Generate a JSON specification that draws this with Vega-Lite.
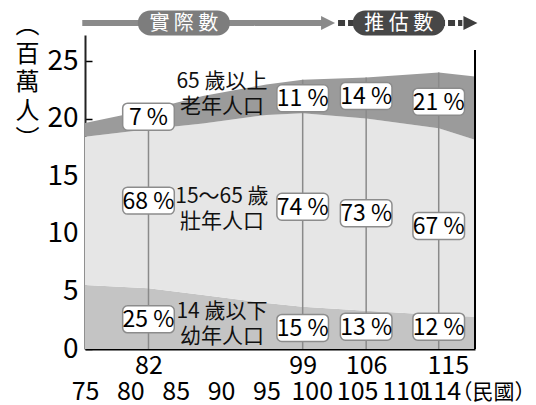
{
  "$schema": "https://vega.github.io/schema/vega-lite/v6.json",
  "width": 390,
  "height": 314,
  "autosize": {"type": "none"},
  "padding": {"left": 85, "top": 35, "right": 61, "bottom": 56},
  "background": "white",
  "config": {
    "view": {"stroke": null},
    "axis": {"grid": false, "zindex": 1, "labelColor": "#000", "labelFont": "Noto Sans CJK TC", "labelFontSize": 25, "labelFlush": false, "labelOverlap": false}
  },
  "datasets": {
    "series": [
      {"year": 75, "group": "14歲以下", "value": 5.57}, {"year": 75, "group": "15～64歲", "value": 12.89}, {"year": 75, "group": "65歲以上", "value": 1.19},
      {"year": 82, "group": "14歲以下", "value": 5.28}, {"year": 82, "group": "15～64歲", "value": 13.82}, {"year": 82, "group": "65歲以上", "value": 1.70},
      {"year": 88, "group": "14歲以下", "value": 4.70}, {"year": 88, "group": "15～64歲", "value": 14.90}, {"year": 88, "group": "65歲以上", "value": 2.40},
      {"year": 95, "group": "14歲以下", "value": 4.00}, {"year": 95, "group": "15～64歲", "value": 16.35}, {"year": 95, "group": "65歲以上", "value": 2.65},
      {"year": 99, "group": "14歲以下", "value": 3.68}, {"year": 99, "group": "15～64歲", "value": 16.82}, {"year": 99, "group": "65歲以上", "value": 2.90},
      {"year": 106, "group": "14歲以下", "value": 3.33}, {"year": 106, "group": "15～64歲", "value": 16.72}, {"year": 106, "group": "65歲以上", "value": 3.55},
      {"year": 114, "group": "14歲以下", "value": 2.96}, {"year": 114, "group": "15～64歲", "value": 16.24}, {"year": 114, "group": "65歲以上", "value": 4.85},
      {"year": 118, "group": "14歲以下", "value": 2.80}, {"year": 118, "group": "15～64歲", "value": 15.40}, {"year": 118, "group": "65歲以上", "value": 5.50}
    ],
    "guides": [
      {"year": 82, "total": 20.8}, {"year": 99, "total": 23.4}, {"year": 106, "total": 23.6}, {"year": 114, "total": 24.05}
    ],
    "boxes": [
      {"year": 82, "y": 20.2, "label": "7 %"}, {"year": 82, "y": 12.9, "label": "68 %"}, {"year": 82, "y": 2.58, "label": "25 %"},
      {"year": 99, "y": 21.8, "label": "11 %"}, {"year": 99, "y": 12.37, "label": "74 %"}, {"year": 99, "y": 1.83, "label": "15 %"},
      {"year": 106, "y": 22.0, "label": "14 %"}, {"year": 106, "y": 11.8, "label": "73 %"}, {"year": 106, "y": 1.94, "label": "13 %"},
      {"year": 114, "y": 21.5, "label": "21 %"}, {"year": 114, "y": 10.7, "label": "67 %"}, {"year": 114, "y": 1.94, "label": "12 %"}
    ],
    "groups": [
      {"year": 90.1, "y": 23.22, "text": "65 歲以上\n老年人口"},
      {"year": 90.1, "y": 13.22, "text": "15～65 歲\n壯年人口"},
      {"year": 90.1, "y": 3.22, "text": "14 歲以下\n幼年人口"}
    ],
    "phases": [
      {"phase": "實際數", "label": "實 際 數", "start": 74.7, "end": 101.3, "pillStart": 82.2, "pillEnd": 89.6, "mid": 85.9, "head": 101.8},
      {"phase": "推估數", "label": "推 估 數", "start": 102.9, "end": 116.6, "pillStart": 105.9, "pillEnd": 113.3, "mid": 109.6, "head": 117.5}
    ]
  },
  "resolve": {"scale": {"color": "independent", "strokeDash": "independent"}, "axis": {"x": "independent"}},
  "layer": [
    {
      "data": {"name": "series"},
      "mark": {"type": "area", "interpolate": "linear"},
      "encoding": {
        "x": {"field": "year", "type": "quantitative", "scale": {"domain": [75, 118], "nice": false, "zero": false},
          "axis": {"orient": "bottom", "values": [75, 80, 85, 90, 95, 100, 105, 110, 114], "ticks": false, "labelPadding": 30, "domainColor": "#000", "domainWidth": 2,
            "labelOffset": {"condition": {"test": "datum.value == 114", "value": 1}, "value": 0},
            "title": "（民國）", "titleFont": "Noto Sans CJK TC", "titleFontSize": 21, "titleFontWeight": "normal", "titleColor": "#000", "titleX": 366, "titleY": 43, "titleAlign": "left", "titleBaseline": "middle", "titleAngle": 0}},
        "y": {"field": "value", "type": "quantitative", "stack": "zero", "scale": {"domain": [0, 27.3], "nice": false},
          "axis": {"values": [0, 5, 10, 15, 20, 25], "tickSize": -7, "tickColor": "#000", "tickWidth": 1.5, "labelPadding": 14, "labelFontSize": 28, "domainColor": "#222", "domainWidth": 2,
            "title": ["︵", "百", "萬", "人", "︶"], "titleAngle": 0, "titleFont": "Noto Sans CJK TC", "titleFontSize": 24, "titleFontWeight": "normal", "titleColor": "#000", "titleLineHeight": 28.5, "titleX": -58, "titleY": -21.5, "titleAlign": "center", "titleBaseline": "top"}},
        "color": {"field": "group", "type": "nominal", "scale": {"domain": ["14歲以下", "15～64歲", "65歲以上"], "range": ["#c4c4c4", "#e6e6e6", "#9b9b9b"]}, "legend": null},
        "order": {"field": "group", "type": "nominal", "sort": "ascending"}
      }
    },
    {
      "data": {"name": "guides"},
      "mark": {"type": "rule", "color": "#8a8a8a", "strokeWidth": 1.5},
      "encoding": {
        "x": {"field": "year", "type": "quantitative", "scale": {"domain": [75, 118], "nice": false, "zero": false},
          "axis": {"orient": "bottom", "values": [82, 99, 106, 115], "ticks": false, "domain": false, "labelPadding": 4, "title": null}},
        "y": {"field": "total", "type": "quantitative"},
        "y2": {"datum": 0}
      }
    },
    {
      "data": {"values": [{}]},
      "mark": {"type": "rule", "color": "#000", "strokeWidth": 2},
      "encoding": {
        "x": {"datum": 118, "type": "quantitative", "axis": null},
        "y": {"datum": 0, "type": "quantitative"},
        "y2": {"datum": 26}
      }
    },
    {
      "data": {"name": "boxes"},
      "mark": {"type": "point", "shape": "M-0.81,-0.523L0.81,-0.523A0.19,0.19,0,0,1,1,-0.333L1,0.333A0.19,0.19,0,0,1,0.81,0.523L-0.81,0.523A0.19,0.19,0,0,1,-1,0.333L-1,-0.333A0.19,0.19,0,0,1,-0.81,-0.523Z", "size": 2663, "fill": "#ffffff", "stroke": "#8c8c8c", "strokeWidth": 1.5, "opacity": 1, "fillOpacity": 1},
      "encoding": {
        "x": {"field": "year", "type": "quantitative", "scale": {"domain": [75, 118], "nice": false, "zero": false},
          "axis": {"orient": "bottom", "values": [80, 85, 90, 95, 100, 105, 110, 115, 115.5, 116.1, 116.7], "labels": false, "domain": false, "tickSize": -6, "tickColor": "#000", "tickWidth": 1.5, "title": null}},
        "y": {"field": "y", "type": "quantitative"}
      }
    },
    {
      "data": {"name": "boxes"},
      "mark": {"type": "text", "font": "Noto Sans CJK TC", "fontSize": 23, "color": "#000", "align": "center", "baseline": "middle", "dy": 1},
      "encoding": {
        "x": {"field": "year", "type": "quantitative", "axis": null},
        "y": {"field": "y", "type": "quantitative"},
        "text": {"field": "label"}
      }
    },
    {
      "data": {"name": "groups"},
      "mark": {"type": "text", "font": "Noto Sans CJK TC", "fontSize": 21, "color": "#111", "align": "center", "baseline": "middle", "lineBreak": "\n", "lineHeight": 25},
      "encoding": {
        "x": {"field": "year", "type": "quantitative", "axis": null},
        "y": {"field": "y", "type": "quantitative"},
        "text": {"field": "text"}
      }
    },
    {
      "data": {"name": "phases"},
      "mark": {"type": "rule", "strokeWidth": 6},
      "encoding": {
        "x": {"field": "start", "type": "quantitative", "axis": null},
        "x2": {"field": "end"},
        "y": {"datum": 28.35, "type": "quantitative"},
        "color": {"field": "phase", "type": "nominal", "scale": {"domain": ["實際數", "推估數"], "range": ["#8a8a8a", "#3d3d3d"]}, "legend": null},
        "strokeDash": {"field": "phase", "type": "nominal", "scale": {"domain": ["實際數", "推估數"], "range": [[1, 0], [7, 3]]}, "legend": null}
      }
    },
    {
      "data": {"name": "phases"},
      "mark": {"type": "point", "shape": "M-1,-1L1,0L-1,1Z", "size": 196, "filled": true, "opacity": 1, "strokeWidth": 0},
      "encoding": {
        "x": {"field": "head", "type": "quantitative", "axis": null},
        "y": {"datum": 28.35, "type": "quantitative"},
        "color": {"field": "phase", "type": "nominal", "scale": {"domain": ["實際數", "推估數"], "range": ["#8a8a8a", "#3d3d3d"]}, "legend": null}
      }
    },
    {
      "data": {"name": "phases"},
      "mark": {"type": "rule", "strokeWidth": 25, "strokeCap": "round"},
      "encoding": {
        "x": {"field": "pillStart", "type": "quantitative", "axis": null},
        "x2": {"field": "pillEnd"},
        "y": {"datum": 28.35, "type": "quantitative"},
        "color": {"field": "phase", "type": "nominal", "scale": {"domain": ["實際數", "推估數"], "range": ["#7d7d7d", "#474747"]}, "legend": null}
      }
    },
    {
      "data": {"name": "phases"},
      "mark": {"type": "text", "font": "Noto Sans CJK TC", "fontSize": 20, "color": "#ffffff", "align": "center", "baseline": "middle", "dy": 1},
      "encoding": {
        "x": {"field": "mid", "type": "quantitative", "axis": null},
        "y": {"datum": 28.35, "type": "quantitative"},
        "text": {"field": "label"}
      }
    }
  ]
}
